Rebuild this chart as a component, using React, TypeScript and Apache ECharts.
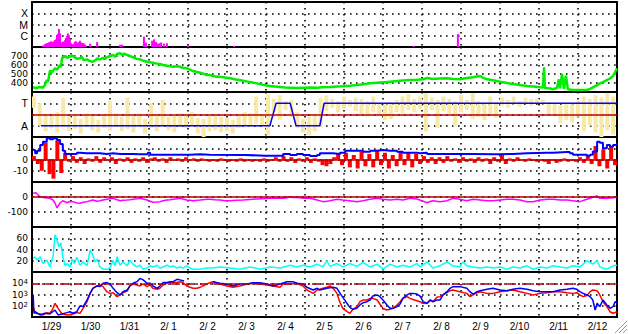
import React, { useEffect, useRef } from "react";
import * as echarts from "echarts";

// ---------- tick labels ----------
const dayLabels = ["1/29", "1/30", "1/31", "2/ 1", "2/ 2", "2/ 3", "2/ 4", "2/ 5", "2/ 6", "2/ 7", "2/ 8", "2/ 9", "2/10", "2/11", "2/12"];
const xrayLevels = ["", "C", "M", "X", ""];
const speedLabels = [400, 500, 600, 700];
const taLevels = ["", "A", "", "T", ""];
const bzLabels = [-10, 0, 10];
const dstLabels = [-100, 0];
const densLabels = [20, 40, 60];
const logLabels = [2, 3, 4];

// ---------- data (x = days since 1/29 00:00) ----------
// X-ray flux, decades above 1e-7
const xray = [
  [0.28, 0.12], [0.31, 0.15], [0.33, 0.24], [0.36, 0.3], [0.38, 0.33], [0.41, 0.35], [0.44, 0.42], [0.46, 0.45],
  [0.49, 0.5], [0.51, 0.45], [0.54, 0.4], [0.56, 0.5], [0.59, 0.62], [0.62, 0.7], [0.64, 0.98], [0.67, 1.2],
  [0.69, 1.6], [0.72, 1.21], [0.74, 0.33], [0.77, 0.4], [0.79, 0.47], [0.82, 0.5], [0.85, 0.62], [0.87, 0.8],
  [0.9, 0.98], [0.92, 1.21], [0.95, 0.9], [0.97, 0.68], [1.0, 0.33], [1.03, 0.25], [1.05, 0.2], [1.08, 0.3],
  [1.1, 0.47], [1.13, 0.5], [1.15, 0.4], [1.18, 0.35], [1.21, 0.45], [1.23, 0.56], [1.26, 0.4], [1.28, 0.33],
  [1.31, 0.35], [1.33, 0.3], [1.36, 0.2], [1.38, 0.1], [1.49, 0.3], [1.67, 0.44], [2.26, 0.2], [2.31, 0.2],
  [2.87, 0.92], [2.92, 0.4], [3.08, 0.56], [3.13, 0.68], [3.18, 0.44], [3.21, 0.3], [3.26, 0.33], [3.31, 0.4],
  [3.38, 0.3], [3.46, 0.33], [4.0, 0.2], [5.18, 0.1], [9.79, 0.1], [10.92, 1.15],
];

// Solar wind speed (km/s)
const speed = [
  [0.03, 352], [0.1, 345], [0.21, 355], [0.28, 348], [0.33, 378], [0.38, 433], [0.41, 410], [0.46, 537], [0.51, 520],
  [0.59, 563], [0.64, 548], [0.72, 600], [0.74, 575], [0.77, 674], [0.85, 700], [0.9, 680], [0.97, 692], [1.03, 705],
  [1.1, 685], [1.15, 670], [1.23, 674], [1.28, 690], [1.33, 652], [1.41, 663], [1.46, 648], [1.51, 640], [1.56, 637],
  [1.62, 650], [1.67, 672], [1.74, 663], [1.82, 680], [1.87, 665], [1.92, 685], [2.0, 700], [2.08, 711], [2.13, 690],
  [2.18, 722], [2.26, 730], [2.31, 715], [2.36, 725], [2.44, 711], [2.51, 700], [2.59, 685], [2.67, 670], [2.77, 663],
  [2.85, 648], [2.95, 637], [3.03, 630], [3.1, 626], [3.21, 615], [3.28, 611], [3.36, 600], [3.46, 592], [3.54, 585],
  [3.62, 581], [3.72, 585], [3.79, 581], [3.87, 570], [3.97, 563], [4.05, 548], [4.13, 533], [4.23, 522], [4.31, 515],
  [4.41, 500], [4.49, 489], [4.56, 489], [4.64, 478], [4.74, 470], [4.82, 470], [4.95, 460], [5.08, 452], [5.23, 440],
  [5.41, 426], [5.59, 410], [5.77, 396], [5.92, 380], [6.1, 367], [6.23, 360], [6.36, 355], [6.49, 350], [6.62, 348],
  [6.79, 345], [6.95, 348], [7.13, 350], [7.31, 348], [7.46, 352], [7.64, 355], [7.82, 360], [7.97, 363], [8.15, 370],
  [8.33, 378], [8.49, 385], [8.67, 396], [8.85, 402], [9.0, 407], [9.18, 415], [9.36, 422], [9.51, 428], [9.69, 433],
  [9.87, 437], [10.03, 441], [10.13, 455], [10.28, 444], [10.46, 450], [10.64, 452], [10.79, 445], [10.97, 441],
  [11.15, 455], [11.31, 463], [11.41, 472], [11.49, 478], [11.56, 460], [11.67, 441], [11.82, 430], [12.0, 414],
  [12.18, 400], [12.33, 389], [12.51, 378], [12.69, 367], [12.85, 360], [13.03, 352], [13.1, 350], [13.13, 574],
  [13.15, 345], [13.28, 340], [13.36, 330], [13.46, 345], [13.51, 440], [13.54, 341], [13.59, 500], [13.64, 335],
  [13.69, 480], [13.74, 330], [13.87, 322], [14.05, 322], [14.23, 322], [14.31, 335], [14.38, 352], [14.49, 375],
  [14.56, 396], [14.64, 410], [14.74, 433], [14.82, 450], [14.9, 478], [14.95, 520], [15.0, 563],
];

// IMF sector scatter (level 0..4), sampled every 0.15 day from 0.05
const sectorStart = 0.05;
const sectorStep = 0.15;
const sectorLo = [
  2.6, 1.0, 0.5, 0.8, 0.4, 0.9, 0.5, 0.7, 0.3, 0.9, 0.6, 0.4, 0.8, 0.6, 0.9, 0.5, 0.7, 0.4, 0.9, 0.3,
  0.8, 0.5, 1.0, 0.6, 0.4, 0.9, 0.8, 1.0, 0.3, 0.0, 0.5, 0.6, 0.4, 0.5, 0.3, 0.8, 1.0, 0.9, 1.2, 1.0,
  0.2, 2.2, 1.5, 2.4, 1.8, 0.8, 0.4, 0.2, 0.5, 0.9, 2.3, 2.6, 2.2, 2.5, 2.7, 2.3, 2.0, 1.8, 2.2, 1.9,
  1.5, 1.6, 2.2, 2.1, 2.4, 2.2, 2.5, 0.5, 2.4, 0.8, 2.3, 2.1, 1.0, 2.2, 2.4, 1.6, 1.8, 1.5, 2.0, 1.7,
  2.8, 2.6, 2.9, 2.7, 3.0, 2.8, 3.0, 2.9, 2.0, 2.0, 1.2, 1.5, 1.3, 1.8, 0.5, 1.0, 0.4, 0.0, 0.6, 0.2,
];
const sectorHi = [
  3.6, 3.0, 2.0, 1.9, 2.2, 3.5, 1.8, 2.0, 1.6, 2.1, 1.9, 1.5, 2.0, 3.2, 2.1, 1.8, 3.5, 1.9, 2.1, 1.6,
  3.0, 2.0, 3.3, 1.8, 1.9, 2.1, 2.0, 2.2, 1.7, 1.6, 1.9, 2.0, 1.8, 1.7, 1.5, 1.9, 2.2, 2.1, 3.6, 2.0,
  3.8, 3.4, 3.7, 3.2, 3.3, 2.2, 1.6, 1.8, 2.0, 3.5, 3.7, 3.4, 3.2, 3.6, 3.3, 3.5, 3.4, 3.2, 3.6, 3.0,
  2.9, 3.1, 3.3, 3.6, 3.8, 3.4, 3.6, 3.9, 3.5, 3.3, 3.6, 3.4, 3.2, 3.7, 3.3, 3.9, 3.2, 3.0, 3.6, 3.1,
  3.5, 3.3, 3.6, 3.2, 3.5, 3.4, 3.4, 3.3, 3.1, 3.0, 2.8, 3.0, 2.9, 3.2, 3.6, 3.4, 3.7, 3.5, 3.9, 3.6,
];
// Sector state: 1 = A, 3 = T
const sectorState = [
  [0.23, 1], [6.1, 1], [6.26, 3], [6.62, 3], [6.77, 1], [7.38, 1], [7.49, 3], [15.0, 3],
];
const sectorRef = 2;

// Bz (nT), sampled every 0.1 day from 0.05
const bzStart = 0.05;
const bzStep = 0.1;
const bz = [
  3, -4, -10, 15, -13, -17, 17, -12, 6, -2, 3, -3, 2, -4, 1, -2, 3, -3, 2, -1,
  2, -4, 1, -2, 2, -3, 1, -2, 2, -3, 1, 2, -2, 1, -3, 2, -1, 1, -2, 2,
  -1, 1, -2, 1, -1, -2, -1, -2, 1, -1, -2, -1, -2, 1, -2, -1, -2, -1, -2, 1,
  -2, -1, 2, -2, 3, -2, 2, -3, 1, -2, 2, -3, 1, -2, -5, -6, -4, 2, 5, -5,
  6, -7, 4, -8, 7, -6, 5, -7, 8, -5, 6, -8, 4, -6, 7, -5, 6, -7, 5, -4,
  3, -3, 2, -4, 2, -3, 3, -2, 1, -3, 2, -2, 1, -3, 2, -2, 1, -4, 2, -2,
  5, -4, 1, -2, 2, -1, -2, 1, -1, -2, -1, -2, -4, -1, -3, -2, 1, -2, -1, -2,
  2, -3, 3, -4, 12, -6, 9, -8, 11, -5,
];
// |B| (nT)
const bt = [
  [0.03, 8.4], [0.08, 5.5], [0.13, 7.8], [0.21, 12.9], [0.28, 15.8], [0.38, 18.8], [0.46, 17.9], [0.54, 18.8],
  [0.64, 17.3], [0.72, 13.8], [0.79, 7.8], [0.85, 4.9], [0.97, 4.9], [1.15, 6.1], [1.23, 5.5], [1.41, 5.5],
  [1.56, 5.5], [1.74, 4.9], [1.92, 5.5], [2.08, 4.9], [2.26, 4.9], [2.44, 4.9], [2.59, 4.6], [2.77, 4.6],
  [2.95, 4.6], [2.97, 6.1], [3.03, 4.3], [3.28, 4.3], [3.54, 4.3], [3.79, 4.3], [4.05, 4.6], [4.31, 4.3],
  [4.56, 4.0], [5.33, 4.0], [5.46, 3.4], [5.97, 3.4], [6.36, 3.4], [6.44, 4.9], [6.62, 4.0], [6.79, 4.9],
  [6.95, 4.0], [7.13, 3.1], [7.31, 4.0], [7.38, 5.5], [7.56, 5.5], [7.72, 4.9], [7.9, 6.1], [8.03, 7.8],
  [8.33, 7.8], [8.49, 6.9], [8.67, 7.8], [8.85, 8.4], [9.0, 7.8], [9.18, 7.8], [9.36, 6.9], [9.51, 6.1],
  [9.69, 6.1], [9.87, 5.5], [9.95, 6.1], [10.13, 4.9], [11.15, 4.9], [11.31, 4.6], [11.82, 4.6], [12.0, 4.9],
  [12.33, 5.5], [12.69, 6.1], [13.21, 6.1], [13.36, 6.7], [13.72, 6.7], [13.79, 5.5], [13.87, 4.3], [14.05, 4.3],
  [14.23, 3.4], [14.31, 4.3], [14.38, 7.2], [14.49, 15.8], [14.56, 14.9], [14.64, 10], [14.74, 13], [14.82, 11.4],
  [14.9, 13], [15.0, 14.5],
];
const bzRef = 0;

// Dst (nT)
const dst = [
  [0.03, 25], [0.1, 28], [0.15, 15], [0.21, 2], [0.33, -5], [0.46, -9], [0.54, -20], [0.59, -40], [0.64, -73],
  [0.72, -40], [0.79, -25], [0.9, -38], [0.97, -30], [1.05, -31], [1.15, -40], [1.23, -42], [1.31, -35], [1.41, -31],
  [1.49, -25], [1.56, -20], [1.67, -28], [1.74, -25], [1.82, -20], [1.92, -15], [2.0, -12], [2.08, -9], [2.18, -18],
  [2.26, -25], [2.33, -22], [2.44, -20], [2.51, -18], [2.59, -15], [2.69, -12], [2.77, -9], [2.85, -14], [2.95, -20],
  [3.03, -28], [3.1, -35], [3.21, -33], [3.28, -31], [3.36, -25], [3.46, -20], [3.54, -18], [3.62, -15], [3.72, -12],
  [3.79, -9], [3.87, -14], [3.97, -20], [4.05, -22], [4.13, -25], [4.23, -22], [4.31, -20], [4.38, -18], [4.49, -15],
  [4.56, -15], [4.69, -18], [4.82, -20], [4.95, -25], [5.08, -25], [5.23, -22], [5.41, -20], [5.59, -16], [5.77, -13],
  [5.92, -11], [6.1, -9], [6.28, -9], [6.44, -9], [6.54, -5], [6.62, 2], [6.69, -3], [6.79, -2], [6.95, -9],
  [7.13, -9], [7.31, -20], [7.46, -31], [7.56, -28], [7.64, -25], [7.82, -15], [7.97, -20], [8.15, -25], [8.33, -31],
  [8.49, -25], [8.67, -15], [8.85, -9], [9.0, -15], [9.18, -20], [9.36, -15], [9.51, -20], [9.69, -9], [9.87, -13],
  [10.03, -28], [10.13, -38], [10.21, -30], [10.28, -25], [10.46, -31], [10.64, -25], [10.79, -9], [10.97, -15],
  [11.15, -25], [11.31, -15], [11.49, -20], [11.67, -25], [11.82, -25], [12.0, -20], [12.18, -15], [12.33, -15],
  [12.51, -20], [12.69, -31], [12.85, -31], [13.03, -20], [13.21, -15], [13.36, -15], [13.54, -20], [13.72, -20],
  [13.87, -25], [14.05, -31], [14.23, -15], [14.38, -2], [14.49, 7], [14.56, -9], [14.74, -9], [14.9, -5], [15.0, -2],
];
const dstRef = 0;

// Proton density (/cc)
const density = [
  [0.03, 24], [0.08, 27], [0.13, 21], [0.21, 27], [0.28, 15], [0.38, 21], [0.46, 9], [0.54, 27], [0.59, 66],
  [0.64, 57], [0.69, 45], [0.74, 52], [0.79, 27], [0.85, 11], [0.9, 15], [0.97, 9], [1.03, 23], [1.08, 15],
  [1.15, 26], [1.23, 12], [1.31, 18], [1.41, 11], [1.49, 39], [1.54, 33], [1.62, 18], [1.67, 23], [1.74, 9],
  [1.82, 5], [1.92, 5], [2.0, 7], [2.08, 21], [2.13, 11], [2.18, 27], [2.26, 12], [2.33, 18], [2.44, 11],
  [2.51, 21], [2.59, 14], [2.69, 9], [2.77, 12], [2.85, 5], [2.95, 7], [3.03, 11], [3.1, 9], [3.21, 12],
  [3.28, 7], [3.36, 9], [3.46, 12], [3.54, 9], [3.62, 11], [3.72, 7], [3.79, 9], [3.87, 7], [3.97, 11],
  [4.05, 7], [4.13, 5], [4.31, 5], [4.49, 7], [4.64, 7], [4.82, 9], [5.08, 7], [5.33, 5], [5.59, 9], [5.85, 5],
  [6.1, 9], [6.36, 7], [6.62, 12], [6.79, 9], [6.95, 12], [7.13, 9], [7.31, 14], [7.46, 9], [7.56, 20], [7.64, 10],
  [7.82, 15], [7.97, 9], [8.15, 15], [8.33, 10], [8.49, 17], [8.67, 9], [8.85, 14], [9.0, 5], [9.18, 14], [9.36, 9],
  [9.51, 12], [9.69, 9], [9.87, 15], [9.95, 9], [10.13, 18], [10.28, 7], [10.46, 11], [10.64, 18], [10.79, 11],
  [10.97, 9], [11.05, 18], [11.15, 11], [11.31, 9], [11.49, 7], [11.67, 9], [11.82, 7], [12.0, 9], [12.18, 5],
  [12.33, 9], [12.51, 7], [12.69, 11], [12.85, 5], [13.03, 9], [13.21, 7], [13.36, 11], [13.54, 9], [13.72, 7],
  [13.87, 11], [14.05, 9], [14.23, 20], [14.38, 14], [14.49, 20], [14.56, 9], [14.74, 5], [14.9, 11], [15.0, 12],
];

// Electron fluxes, log10
const fluxRed = [
  [0.03, 1.92], [0.08, 1.33], [0.21, 1.27], [0.28, 1.18], [0.38, 1.39], [0.46, 1.33], [0.54, 1.77], [0.59, 2.22],
  [0.67, 1.77], [0.77, 1.27], [0.9, 1.18], [1.05, 1.27], [1.15, 1.39], [1.23, 1.33], [1.31, 1.77], [1.41, 2.36],
  [1.49, 3.1], [1.56, 3.55], [1.67, 3.76], [1.74, 3.85], [1.82, 3.7], [1.92, 3.25], [2.0, 3.1], [2.08, 3.16],
  [2.18, 2.81], [2.26, 2.96], [2.33, 3.16], [2.44, 3.3], [2.51, 3.76], [2.59, 3.94], [2.69, 3.85], [2.77, 3.76],
  [2.85, 3.94], [2.95, 3.7], [3.03, 3.85], [3.1, 3.55], [3.21, 3.46], [3.28, 3.55], [3.36, 3.85], [3.46, 4.0],
  [3.54, 4.06], [3.72, 4.06], [3.79, 4.14], [3.87, 4.06], [3.97, 3.76], [4.05, 3.64], [4.13, 3.55], [4.23, 3.55],
  [4.31, 3.64], [4.38, 3.76], [4.49, 3.94], [4.56, 4.05], [4.64, 4.14], [4.82, 3.93], [5.0, 3.76], [5.15, 3.64],
  [5.33, 3.76], [5.51, 3.93], [5.67, 4.0], [5.85, 3.93], [6.03, 3.84], [6.18, 3.76], [6.36, 3.64], [6.44, 3.93],
  [6.62, 3.93], [6.79, 4.0], [6.95, 3.76], [7.05, 3.4], [7.13, 3.25], [7.21, 3.1], [7.31, 3.4], [7.38, 3.46],
  [7.46, 3.55], [7.56, 3.64], [7.64, 3.76], [7.72, 3.55], [7.82, 3.1], [7.9, 2.27], [7.97, 1.77], [8.08, 1.47],
  [8.15, 1.33], [8.23, 1.68], [8.33, 1.92], [8.41, 2.36], [8.49, 2.51], [8.59, 2.51], [8.67, 2.66], [8.74, 2.66],
  [8.85, 2.51], [8.92, 2.16], [9.0, 1.77], [9.1, 1.62], [9.18, 1.68], [9.26, 1.77], [9.36, 2.07], [9.44, 2.36],
  [9.51, 2.66], [9.62, 2.81], [9.69, 2.66], [9.77, 2.55], [9.87, 2.45], [9.95, 2.36], [10.03, 2.22], [10.13, 2.2],
  [10.21, 2.51], [10.28, 2.36], [10.38, 2.75], [10.46, 2.81], [10.54, 2.96], [10.64, 3.16], [10.72, 3.34],
  [10.79, 3.4], [10.97, 3.25], [11.15, 3.1], [11.23, 2.81], [11.31, 2.96], [11.41, 3.16], [11.49, 3.25],
  [11.67, 3.1], [11.82, 3.1], [12.0, 3.25], [12.18, 3.34], [12.33, 3.4], [12.51, 3.25], [12.69, 3.1], [12.85, 2.96],
  [13.03, 3.1], [13.21, 3.16], [13.36, 3.25], [13.54, 3.25], [13.72, 3.16], [13.87, 3.1], [13.97, 3.16],
  [14.05, 2.96], [14.13, 2.81], [14.23, 2.9], [14.31, 3.25], [14.38, 3.4], [14.49, 3.34], [14.56, 2.96],
  [14.64, 2.36], [14.74, 1.92], [14.82, 1.47], [14.9, 1.33], [15.0, 1.47],
];
const fluxBlue = [
  [0.03, 2.96], [0.05, 1.33], [0.08, 1.47], [0.21, 1.18], [0.33, 1.33], [0.46, 1.27], [0.59, 1.62], [0.67, 1.18],
  [0.77, 1.27], [0.9, 1.39], [0.97, 1.47], [1.05, 1.33], [1.15, 1.47], [1.23, 1.98], [1.31, 1.93], [1.41, 2.51],
  [1.49, 3.1], [1.56, 3.55], [1.67, 3.76], [1.74, 3.7], [1.82, 4.0], [1.92, 4.06], [2.0, 3.94], [2.08, 3.55],
  [2.18, 3.16], [2.26, 2.96], [2.33, 3.25], [2.44, 3.4], [2.51, 3.76], [2.59, 4.0], [2.69, 4.14], [2.77, 4.43],
  [2.85, 4.3], [2.95, 4.0], [3.03, 4.0], [3.1, 3.76], [3.21, 3.55], [3.28, 3.76], [3.36, 4.06], [3.46, 4.06],
  [3.54, 4.14], [3.62, 4.14], [3.72, 4.35], [3.79, 4.3], [3.9, 4.2], [4.2, "-"], [4.64, 4.14], [4.82, 4.0],
  [5.0, 3.93], [5.15, 3.76], [5.33, 3.93], [5.51, 3.93], [5.67, 4.05], [5.85, 4.05], [6.03, 3.93], [6.18, 3.76],
  [6.36, 3.93], [6.54, 4.14], [6.69, 4.14], [6.79, 4.0], [6.95, 3.93], [7.05, 3.64], [7.21, 3.4], [7.31, 3.55],
  [7.38, 3.4], [7.56, 3.55], [7.72, 3.64], [7.82, 3.55], [7.9, 3.1], [7.97, 2.75], [8.08, 2.2], [8.15, 1.86],
  [8.23, 1.68], [8.33, 1.77], [8.41, 2.07], [8.49, 2.27], [8.59, 2.36], [8.67, 2.51], [8.74, 2.87], [8.85, 2.96],
  [8.92, 2.81], [9.0, 2.51], [9.1, 2.07], [9.18, 1.77], [9.26, 1.77], [9.36, 1.92], [9.44, 2.16], [9.51, 2.66],
  [9.62, 2.96], [9.69, 3.1], [9.77, 3.1], [9.87, 3.04], [9.95, 2.85], [10.03, 2.36], [10.13, 2.22], [10.21, 2.51],
  [10.28, 2.36], [10.38, 2.51], [10.46, 2.51], [10.54, 2.96], [10.64, 3.25], [10.72, 3.55], [10.79, 3.7],
  [10.97, 3.7], [11.15, 3.55], [11.23, 3.25], [11.31, 3.04], [11.41, 3.25], [11.49, 3.34], [11.67, 3.46],
  [11.82, 3.55], [12.0, 3.4], [12.18, 3.34], [12.33, 3.46], [12.51, 3.55], [12.69, 3.46], [12.85, 3.34],
  [13.03, 3.25], [13.21, 3.25], [13.36, 3.25], [13.54, 3.4], [13.72, 3.46], [13.87, 3.55], [13.97, 3.46],
  [14.05, 3.25], [14.13, 3.1], [14.23, 2.96], [14.31, 2.81], [14.38, 2.51], [14.44, 1.62], [14.49, 2.22],
  [14.56, 1.92], [14.64, 2.51], [14.74, 2.07], [14.82, 1.77], [14.9, 1.92], [14.95, 2.36], [15.0, 2.22],
];
const fluxRef = 4;

// ---------- styling ----------
const FONT = "'Liberation Sans', Arial, Helvetica, sans-serif";
const NUMFONT = "'DejaVu Sans', 'Liberation Sans', sans-serif";
const GRID_TOPS = [2, 47, 92, 137, 182, 227, 272];
const GRID_H = 45;
const dotted = { color: "#000", width: 1.6, type: [1.6, 4.4] };

function yAxis(gridIndex: number, min: number, max: number, interval: number, formatter: any, numeric: boolean) {
  const fam = numeric ? NUMFONT : FONT;
  const size = numeric ? 9 : 10.5;
  return {
    type: "value",
    gridIndex,
    min,
    max,
    interval,
    axisLine: { show: false },
    axisTick: { show: false },
    splitLine: { show: true, lineStyle: dotted },
    axisLabel: {
      formatter,
      color: "#000",
      fontSize: size,
      lineHeight: 9,
      fontFamily: fam,
      margin: 4,
      rich: {
        b: { fontSize: 9, fontFamily: NUMFONT, color: "#000", verticalAlign: "bottom", lineHeight: 9 },
        s: { fontSize: 7, fontFamily: NUMFONT, color: "#000", verticalAlign: "top", lineHeight: 7, padding: [0, 0, 5, 0] },
      },
    },
  };
}

function refLine(value: number, color: string, type: any) {
  return {
    silent: true,
    symbol: ["none", "none"],
    label: { show: false },
    animation: false,
    lineStyle: { color, width: 1.5, type },
    data: [{ yAxis: value }],
  };
}

export default function App() {
  const ref = useRef<HTMLDivElement>(null);

  useEffect(() => {
    if (!ref.current) return;
    const chart = echarts.init(ref.current, undefined, { renderer: "svg" });

    const grids = GRID_TOPS.map((top) => ({
      left: 32,
      right: 11,
      top,
      height: GRID_H,
      show: true,
      borderColor: "#000",
      borderWidth: 2,
      backgroundColor: "transparent",
      containLabel: false,
    }));

    const xAxes: any[] = GRID_TOPS.map((_, i) => ({
      type: "value",
      gridIndex: i,
      min: 0,
      max: 15,
      interval: 1,
      axisLine: { show: false },
      axisTick: { show: false },
      axisLabel: { show: false },
      splitLine: { show: true, lineStyle: dotted },
    }));
    xAxes.push({
      type: "category",
      gridIndex: 6,
      data: dayLabels,
      boundaryGap: true,
      position: "bottom",
      axisLine: { show: false },
      axisTick: { show: false },
      splitLine: { show: false },
      axisLabel: { interval: 0, color: "#000", fontSize: 10, fontFamily: FONT, margin: 4 },
    });

    const yAxes = [
      yAxis(0, 0, 4, 1, (v: number) => xrayLevels[v] ?? "", false),
      yAxis(1, 300, 800, 100, (v: number) => (speedLabels.includes(v) ? String(v) : ""), true),
      yAxis(2, 0, 4, 1, (v: number) => taLevels[v] ?? "", false),
      yAxis(3, -20, 20, 10, (v: number) => (bzLabels.includes(v) ? String(v) : ""), true),
      yAxis(4, -200, 100, 100, (v: number) => (dstLabels.includes(v) ? String(v) : ""), true),
      yAxis(5, 0, 80, 20, (v: number) => (densLabels.includes(v) ? String(v) : ""), true),
      yAxis(6, 1, 5, 1, (v: number) => (logLabels.includes(v) ? "{b|10}{s|" + v + "}" : ""), true),
    ];

    const sectorData = sectorLo.map((lo, i) => [sectorStart + i * sectorStep, lo, sectorHi[i]]);
    const bzData = bz.map((v, i) => [bzStart + i * bzStep, v]);

    const series: any[] = [
      {
        type: "bar",
        xAxisIndex: 0,
        yAxisIndex: 0,
        data: xray,
        barWidth: 2,
        itemStyle: { color: "#ff00ff" },
      },
      {
        type: "line",
        xAxisIndex: 1,
        yAxisIndex: 1,
        data: speed,
        showSymbol: false,
        lineStyle: { color: "#00ee00", width: 2.5 },
      },
      {
        type: "custom",
        xAxisIndex: 2,
        yAxisIndex: 2,
        data: sectorData,
        encode: { x: 0, y: [1, 2] },
        renderItem: (params: any, api: any) => {
          const x = api.value(0);
          const top = api.coord([x, api.value(2)]);
          const bot = api.coord([x, api.value(1)]);
          return {
            type: "rect",
            shape: { x: top[0] - 2, y: top[1], width: 4, height: bot[1] - top[1] },
            style: { fill: "#f8e9a6" },
          };
        },
      },
      {
        type: "line",
        xAxisIndex: 2,
        yAxisIndex: 2,
        data: sectorState,
        showSymbol: false,
        lineStyle: { color: "#0000ff", width: 1.5 },
        markLine: refLine(sectorRef, "#c00000", "solid"),
      },
      {
        type: "bar",
        xAxisIndex: 3,
        yAxisIndex: 3,
        data: bzData,
        barWidth: 4,
        itemStyle: { color: "#ff0000" },
        markLine: refLine(bzRef, "#b00000", "solid"),
      },
      {
        type: "line",
        xAxisIndex: 3,
        yAxisIndex: 3,
        data: bt,
        step: "end",
        showSymbol: false,
        lineStyle: { color: "#0000ff", width: 2 },
      },
      {
        type: "line",
        xAxisIndex: 4,
        yAxisIndex: 4,
        data: dst,
        showSymbol: false,
        lineStyle: { color: "#ff00ff", width: 1.5 },
        markLine: refLine(dstRef, "#b00000", "solid"),
      },
      {
        type: "line",
        xAxisIndex: 5,
        yAxisIndex: 5,
        data: density,
        showSymbol: false,
        lineStyle: { color: "#00ffff", width: 1.5 },
      },
      {
        type: "line",
        xAxisIndex: 6,
        yAxisIndex: 6,
        data: fluxRed,
        showSymbol: false,
        lineStyle: { color: "#ff0000", width: 1.5 },
        markLine: refLine(fluxRef, "#b00000", [8, 2, 2, 2]),
      },
      {
        type: "line",
        xAxisIndex: 6,
        yAxisIndex: 6,
        data: fluxBlue,
        showSymbol: false,
        connectNulls: false,
        lineStyle: { color: "#0000ff", width: 1.5 },
      },
    ];

    chart.setOption({
      animation: false,
      backgroundColor: "#fff",
      textStyle: { fontFamily: FONT },
      grid: grids,
      xAxis: xAxes,
      yAxis: yAxes,
      series,
      graphic: [
        { type: "line", shape: { x1: 615, y1: 333, x2: 627, y2: 321 }, style: { stroke: "#9a9a9a", lineWidth: 1 } },
        { type: "line", shape: { x1: 619, y1: 333, x2: 627, y2: 325 }, style: { stroke: "#9a9a9a", lineWidth: 1 } },
        { type: "line", shape: { x1: 623, y1: 333, x2: 627, y2: 329 }, style: { stroke: "#9a9a9a", lineWidth: 1 } },
      ],
    });

    return () => chart.dispose();
  }, []);

  return (
    <div
      ref={ref}
      style={{ position: "absolute", left: 0, top: 0, width: 628, height: 334, background: "#fff" }}
    />
  );
}
